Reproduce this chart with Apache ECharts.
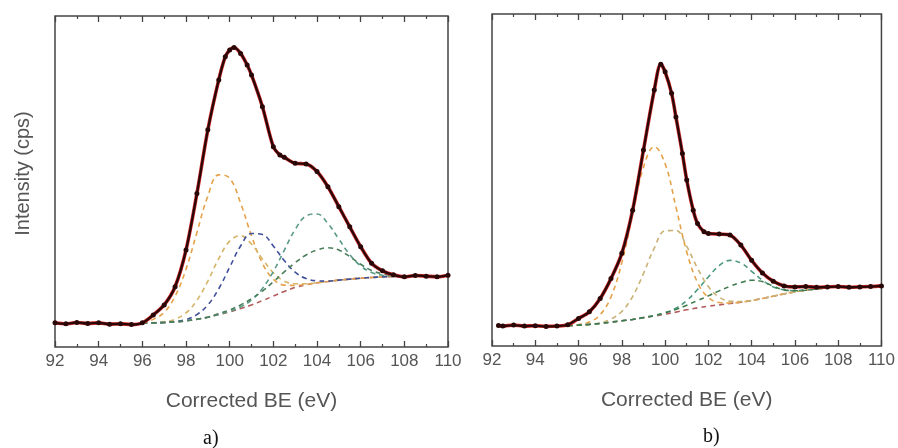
<!DOCTYPE html>
<html><head><meta charset="utf-8">
<script src="https://cdn.jsdelivr.net/npm/echarts@6/dist/echarts.min.js"></script>
<style>html,body{margin:0;padding:0;background:#fff}#c{width:898px;height:448px}</style>
</head><body><div id="c"></div>
<script>
// ---- Panel a) measured spectrum ----
const aDataX = [92, 92.5, 93, 93.5, 94, 94.5, 95, 95.5, 96, 96.5, 97, 97.5, 98, 98.5, 99, 99.5, 99.8, 100, 100.2, 100.5, 100.8, 101, 101.5, 102, 102.3, 102.5, 103, 103.5, 104, 104.5, 105, 105.5, 106, 106.5, 107, 107.5, 108, 108.5, 109, 109.5, 110];
const aDataY = [7.3, 7.0, 7.4, 7.1, 7.3, 6.9, 7.0, 6.8, 7.3, 9.7, 12.7, 18.2, 29.3, 46.4, 65.6, 80.7, 87.7, 89.7, 90.5, 88.7, 85.2, 82.2, 72.6, 60.5, 58.0, 57.3, 55.5, 55.3, 53.0, 48.4, 42.4, 36.3, 30.3, 25.3, 23.0, 21.8, 21.2, 21.6, 21.4, 21.2, 21.7];
// ---- Panel a) fit components ----
const aCompX = [96, 96.5, 97, 97.5, 98, 98.5, 99, 99.5, 100, 100.5, 101, 101.5, 102, 102.5, 103, 103.5, 104, 104.5, 105, 105.5, 106, 106.5, 107, 107.5, 108];
const aBg     = [7.2, 7.3, 7.4, 7.6, 7.9, 8.4, 9.0, 9.8, 10.6, 11.6, 12.7, 14.0, 15.4, 16.8, 18.0, 18.8, 19.4, 19.8, 20.2, 20.5, 20.8, 21.0, 21.2, 21.3, 21.3];
const aOrange = [7.5, 8.35, 10.5, 15.3, 23.5, 34.6, 45.6, 52.0, 51.0, 43.5, 33.6, 25.3, 20.5, 18.7, 18.6, 18.9, 19.4, 19.8, 20.2, 20.5, 20.8, 21.0, 21.2, 21.3, 21.3];
const aTan    = [7.2, 7.35, 7.6, 8.4, 10.3, 14.1, 19.9, 26.7, 32.0, 33.6, 31.1, 26.6, 22.4, 19.9, 19.1, 19.1, 19.4, 19.8, 20.2, 20.5, 20.8, 21.0, 21.2, 21.3, 21.3];
const aBlue   = [7.2, 7.3, 7.4, 7.7, 8.3, 9.8, 12.7, 17.6, 24.1, 30.5, 34.3, 34.0, 30.5, 26.1, 22.6, 20.7, 20.0, 19.9, 20.2, 20.5, 20.8, 21.0, 21.2, 21.3, 21.3];
const aGreen1 = [7.2, 7.3, 7.4, 7.6, 7.9, 8.4, 9.0, 9.85, 10.8, 12.1, 14.2, 17.7, 22.8, 29.2, 35.5, 39.6, 40.2, 37.3, 32.6, 27.9, 24.5, 22.5, 21.7, 21.4, 21.3];
const aGreen2 = [7.2, 7.3, 7.4, 7.6, 7.9, 8.4, 9.0, 10.1, 11.2, 12.7, 14.6, 16.9, 19.7, 22.7, 25.5, 27.8, 29.3, 30.0, 29.3, 27.3, 25.0, 23.1, 22.1, 21.6, 21.4];

// ---- Panel b) measured spectrum ----
const bDataX = [92.3, 92.5, 93, 93.5, 94, 94.5, 95, 95.5, 96, 96.5, 97, 97.5, 98, 98.5, 99, 99.5, 99.8, 100, 100.3, 100.5, 100.8, 101, 101.3, 101.5, 101.8, 102, 102.5, 103, 103.5, 104, 104.5, 105, 105.5, 106, 106.5, 107, 107.5, 108, 108.5, 109, 109.5, 110];
const bDataY = [6.2, 6.0, 6.3, 6.0, 6.1, 5.9, 6.0, 6.4, 8.3, 10.3, 14.3, 20.3, 27.9, 40.9, 59.0, 77.1, 84.9, 82.6, 76.1, 69.0, 58.0, 50.0, 40.9, 36.9, 34.4, 33.9, 33.7, 33.4, 30.4, 25.8, 22.0, 19.5, 18.1, 17.8, 17.9, 17.7, 17.8, 17.9, 17.7, 17.8, 17.9, 18.1];
// ---- Panel b) fit components ----
const bCompX = [95.5, 96, 96.5, 97, 97.5, 98, 98.5, 99, 99.5, 100, 100.5, 101, 101.5, 102, 102.5, 103, 103.5, 104, 104.5, 105, 105.5, 106, 106.5, 107, 107.5];
const bBg     = [6.1, 6.3, 6.5, 6.8, 7.2, 7.6, 8.0, 8.5, 9.0, 9.6, 10.2, 10.9, 11.5, 12.0, 12.4, 12.8, 13.2, 13.7, 14.3, 15.0, 15.7, 16.3, 16.8, 17.2, 17.5];
const bOrange = [6.1, 6.45, 7.2, 9.4, 14.8, 25.1, 39.7, 53.8, 60.0, 54.9, 41.9, 28.4, 19.1, 14.6, 13.1, 12.95, 13.2, 13.7, 14.3, 15.0, 15.7, 16.3, 16.8, 17.2, 17.5];
const bTan    = [6.1, 6.3, 6.55, 7.0, 8.1, 10.4, 14.9, 21.8, 29.5, 34.7, 34.8, 30.0, 23.4, 17.9, 14.7, 13.5, 13.4, 13.7, 14.3, 15.0, 15.7, 16.3, 16.8, 17.2, 17.5];
const bGreen1 = [6.1, 6.3, 6.5, 6.8, 7.2, 7.6, 8.0, 8.5, 9.1, 10.0, 11.4, 13.7, 17.0, 20.8, 24.2, 25.8, 25.0, 22.5, 19.8, 17.8, 16.9, 16.7, 16.9, 17.2, 17.5];
const bGreen2 = [6.1, 6.3, 6.5, 6.8, 7.2, 7.6, 8.0, 8.6, 9.2, 10.0, 11.0, 12.3, 13.7, 15.1, 16.6, 18.0, 19.1, 19.8, 19.4, 18.0, 16.9, 16.65, 16.8, 17.2, 17.5];

// ---- axis ----
const xMin = 92, xMax = 110, xStep = 2;
const xTitle = 'Corrected BE (eV)';
const yTitle = 'Intensity (cps)';
const panelLabels = ['a)', 'b)'];

const zip = (xs, ys) => xs.map((x, i) => [x, ys[i]]);
const FONT = '"Liberation Sans", Arial, sans-serif';
const FRAME = '#444';

function xAxes(gi) {
  const base = {
    type: 'value', gridIndex: gi, min: xMin, max: xMax, interval: xStep,
    axisLine: { show: false },
    splitLine: { show: false },
    axisTick: { show: true, inside: true, length: 6, lineStyle: { color: FRAME, width: 1.3 } },
    minorTick: { show: true, splitNumber: 2, length: 3, lineStyle: { color: FRAME, width: 1.2 } }
  };
  return [
    Object.assign({}, base, {
      position: 'bottom',
      axisLabel: { show: true, fontSize: 17, color: '#555', fontFamily: FONT, margin: 6 },
      name: xTitle, nameLocation: 'middle', nameGap: 44,
      nameTextStyle: { fontSize: 21, color: '#555', fontFamily: FONT }
    }),
    Object.assign({}, base, { position: 'top', axisLabel: { show: false } })
  ];
}
function yAxis(gi, withName) {
  const ax = {
    type: 'value', gridIndex: gi, min: 0, max: 100,
    axisLine: { show: false }, axisTick: { show: false },
    axisLabel: { show: false }, splitLine: { show: false }
  };
  if (withName) {
    Object.assign(ax, {
      name: yTitle, nameLocation: 'middle', nameGap: 22,
      nameTextStyle: { fontSize: 20, color: '#555', fontFamily: FONT, padding: [0, 0, 0, 16] }
    });
  }
  return ax;
}
function comp(name, xs, ys, color, gi) {
  return {
    name, type: 'line', xAxisIndex: gi * 2, yAxisIndex: gi, data: zip(xs, ys),
    smooth: 0.4, symbol: 'none', silent: true,
    lineStyle: { color, width: 1.6, type: [5, 4] }, z: 2
  };
}
function dataSeries(xs, ys, gi) {
  return [
    { name: 'Fit', type: 'line', xAxisIndex: gi * 2, yAxisIndex: gi, data: zip(xs, ys),
      smooth: 0.3, symbol: 'none', lineStyle: { color: '#d12a2a', width: 3.6 }, z: 3 },
    { name: 'Data', type: 'line', xAxisIndex: gi * 2, yAxisIndex: gi, data: zip(xs, ys),
      smooth: 0.3, symbol: 'circle', symbolSize: 5, showAllSymbol: true,
      itemStyle: { color: '#2a0808' }, lineStyle: { color: '#2a0808', width: 2.3 }, z: 4 }
  ];
}

const chart = echarts.init(document.getElementById('c'), null, { renderer: 'canvas' });
chart.setOption({
  animation: false,
  backgroundColor: '#fff',
  grid: [
    { left: 55, top: 16, width: 393, height: 331, show: true, borderColor: FRAME, borderWidth: 1.5, backgroundColor: 'transparent' },
    { left: 492, top: 14, width: 391, height: 332, show: true, borderColor: FRAME, borderWidth: 1.5, backgroundColor: 'transparent' }
  ],
  xAxis: [...xAxes(0), ...xAxes(1)],
  yAxis: [yAxis(0, true), yAxis(1, false)],
  graphic: [
    { type: 'text', left: 203, top: 429, style: { text: panelLabels[0], font: '20px "Liberation Serif", "Times New Roman", serif', fill: '#111' } },
    { type: 'text', left: 703, top: 427, style: { text: panelLabels[1], font: '20px "Liberation Serif", "Times New Roman", serif', fill: '#111' } }
  ],
  series: [
    comp('Background', aCompX, aBg, '#b35a5a', 0),
    comp('Si 2p a', aCompX, aOrange, '#e6a24a', 0),
    comp('Si 2p b', aCompX, aTan, '#d6b46a', 0),
    comp('Si 2p c', aCompX, aBlue, '#3f4f9a', 0),
    comp('Si 2p d', aCompX, aGreen1, '#5a9a88', 0),
    comp('Si 2p e', aCompX, aGreen2, '#4a7e5a', 0),
    ...dataSeries(aDataX, aDataY, 0),
    comp('Background', bCompX, bBg, '#b35a5a', 1),
    comp('Si 2p a', bCompX, bOrange, '#e6a24a', 1),
    comp('Si 2p b', bCompX, bTan, '#c9b276', 1),
    comp('Si 2p d', bCompX, bGreen1, '#4f9a80', 1),
    comp('Si 2p e', bCompX, bGreen2, '#3f7a4c', 1),
    ...dataSeries(bDataX, bDataY, 1)
  ]
});
</script></body></html>
